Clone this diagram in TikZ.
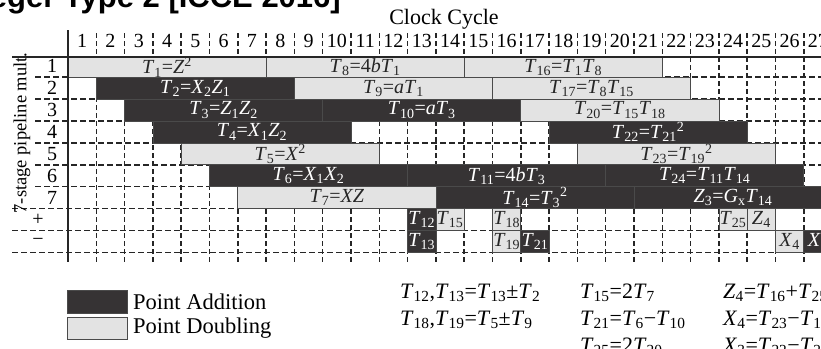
\documentclass[tikz,border=0pt]{standalone}
\usepackage{fontspec}
\setmainfont{Liberation Serif}
\newfontfamily\headfont{Liberation Sans}
\usetikzlibrary{positioning}

\definecolor{addfill}{HTML}{363334}
\definecolor{dblfill}{HTML}{E3E3E3}
\definecolor{edgegray}{HTML}{4A4A4A}

\newcommand{\Tv}[1]{\textit{T}\textsubscript{#1}}
\newcommand{\Xv}[1]{\textit{X}\textsubscript{#1}}
\newcommand{\Zv}[1]{\textit{Z}\textsubscript{#1}}
\newcommand{\sqr}{\textsuperscript{2}}

\tikzset{
	gridh/.style={line width=1.5pt, dash pattern=on 6pt off 3pt, black!85},
	gridv/.style={line width=1.5pt, dash pattern=on 5pt off 3pt, black!85},
	addbar/.style={draw=edgegray, line width=0.8pt, fill=addfill, text=white, anchor=south west,
		minimum height=21.9pt, inner sep=0pt, outer sep=0pt, font=\fontsize{20}{22}\selectfont},
	dblbar/.style={addbar, fill=dblfill, text=black!85},
	ncyc/.style={minimum width=#1*28.3pt},
	toprow/.style={minimum height=20.2pt},
	axisnum/.style={font=\fontsize{20}{22}\selectfont, inner sep=0pt},
	keytext/.style={font=\fontsize{22.5}{24}\selectfont, inner sep=0pt, anchor=west},
	eqtext/.style={font=\fontsize{22}{24}\selectfont, inner sep=0pt, anchor=west}
}

\begin{document}
\begin{tikzpicture}[x=1pt, y=-1pt]

		\useasboundingbox (0,0) rectangle (821,348);

		% cut title
		\node[anchor=base east, inner sep=0pt, font=\headfont\bfseries\fontsize{31}{33}\selectfont] (title) at (341,7) {Integer Type 2 [ICCE 2016]};

		% grid
		\foreach \y in {77.2,99.1,121,142.9,164.8,186.7}
			\draw[gridh] (35,\y) -- (821,\y);
		\foreach \y in {208.6,230.5,252.4}
			\draw[gridh] (12,\y) -- (821,\y);
		\foreach \k in {1,...,27}
			\draw[gridv] ({68+28.3*\k},33) -- ({68+28.3*\k},262);

		% axis texts
		\node[font=\fontsize{22}{24}\selectfont, inner sep=0pt] (clock) at (444,19) {Clock Cycle};
		\foreach \k in {1,...,27}
			\node[axisnum] (c\k) at ({68+28.3*(\k-0.5)},41) {\k};
		\foreach \r in {1,...,7}
			\node[axisnum] (r\r) at (52,{55.3+21.9*(\r-0.5)}) {\r};
		\node[axisnum] (rplus) at (38,{55.3+21.9*7.5}) {+};
		\node[axisnum] (rminus) at (38,{55.3+21.9*8.5}) {−};
		\node[rotate=90, inner sep=0pt, font=\fontsize{18.5}{20}\selectfont] (pipe) at (22,133) {7-stage pipeline mult.};

		% row 1
		\node[dblbar, ncyc=7, toprow] (t1) at (68,77.2) {\Tv{1}=\textit{Z}\sqr};
		\node[dblbar, ncyc=7, toprow] (t8) at (266.1,77.2) {\Tv{8}=4\textit{b}\Tv{1}};
		\node[dblbar, ncyc=7, toprow] (t16) at (464.2,77.2) {\Tv{16}=\Tv{1}\Tv{8}};
		% row 2
		\node[addbar, ncyc=7] (t2) at (96.3,99.1) {\Tv{2}=\Xv{2}\Zv{1}};
		\node[dblbar, ncyc=7] (t9) at (294.4,99.1) {\Tv{9}=\textit{a}\Tv{1}};
		\node[dblbar, ncyc=7] (t17) at (492.5,99.1) {\Tv{17}=\Tv{8}\Tv{15}};
		% row 3
		\node[addbar, ncyc=7] (t3) at (124.6,121) {\Tv{3}=\Zv{1}\Zv{2}};
		\node[addbar, ncyc=7] (t10) at (322.7,121) {\Tv{10}=\textit{a}\Tv{3}};
		\node[dblbar, ncyc=7] (t20) at (520.8,121) {\Tv{20}=\Tv{15}\Tv{18}};
		% row 4
		\node[addbar, ncyc=7] (t4) at (152.9,142.9) {\Tv{4}=\Xv{1}\Zv{2}};
		\node[addbar, ncyc=7] (t22) at (549.1,142.9) {\Tv{22}=\Tv{21}\sqr};
		% row 5
		\node[dblbar, ncyc=7] (t5) at (181.2,164.8) {\Tv{5}=\textit{X}\sqr};
		\node[dblbar, ncyc=7] (t23) at (577.4,164.8) {\Tv{23}=\Tv{19}\sqr};
		% row 6
		\node[addbar, ncyc=7] (t6) at (209.5,186.7) {\Tv{6}=\Xv{1}\Xv{2}};
		\node[addbar, ncyc=7] (t11) at (407.6,186.7) {\Tv{11}=4\textit{b}\Tv{3}};
		\node[addbar, ncyc=7] (t24) at (605.7,186.7) {\Tv{24}=\Tv{11}\Tv{14}};
		% row 7
		\node[dblbar, ncyc=7] (t7) at (237.8,208.6) {\Tv{7}=\textit{XZ}};
		\node[addbar, ncyc=7] (t14) at (435.9,208.6) {\Tv{14}=\Tv{3}\sqr};
		\node[addbar, ncyc=7] (z3) at (634,208.6) {\Zv{3}=\textit{G}\textsubscript{x}\Tv{14}};
		% adder row
		\node[addbar, ncyc=1] (t12) at (407.6,230.5) {\Tv{12}};
		\node[dblbar, ncyc=1] (t15) at (435.9,230.5) {\Tv{15}};
		\node[dblbar, ncyc=1] (t18) at (492.5,230.5) {\Tv{18}};
		\node[dblbar, ncyc=1] (t25) at (718.9,230.5) {\Tv{25}};
		\node[dblbar, ncyc=1] (z4) at (747.2,230.5) {\Zv{4}};
		% subtractor row
		\node[addbar, ncyc=1] (t13) at (407.6,252.4) {\Tv{13}};
		\node[dblbar, ncyc=1] (t19) at (492.5,252.4) {\Tv{19}};
		\node[addbar, ncyc=1] (t21) at (520.8,252.4) {\Tv{21}};
		\node[dblbar, ncyc=1] (x4) at (775.5,252.4) {\Xv{4}};
		\node[addbar, ncyc=1] (x3) at (803.8,252.4) {\Xv{3}};

		% axes
		\draw[line width=1.8pt, black!85] (12,57) -- (821,57);
		\draw[line width=1.5pt, black!85] (68,30) -- (68,262);

		% legend
		\node[addbar, anchor=north west, minimum width=60pt, minimum height=23pt] (keyadd) at (67,290) {};
		\node[keytext, right=6pt of keyadd] (keyaddtxt) {Point Addition};
		\node[dblbar, anchor=north west, minimum width=60pt, minimum height=22pt] (keydbl) at (67,317) {};
		\node[keytext, right=6pt of keydbl] (keydbltxt) {Point Doubling};

		% formulas
		\node[eqtext] (eq1) at (400,293) {\Tv{12},\Tv{13}=\Tv{13}±\Tv{2}};
		\node[eqtext] (eq2) at (400,320) {\Tv{18},\Tv{19}=\Tv{5}±\Tv{9}};
		\node[eqtext] (eq3) at (580,293) {\Tv{15}=2\Tv{7}};
		\node[eqtext] (eq4) at (580,320) {\Tv{21}=\Tv{6}−\Tv{10}};
		\node[eqtext] (eq5) at (580,347) {\Tv{25}=2\Tv{20}};
		\node[eqtext] (eq6) at (723,293) {\Zv{4}=\Tv{16}+\Tv{25}};
		\node[eqtext] (eq7) at (723,320) {\Xv{4}=\Tv{23}−\Tv{17}};
		\node[eqtext] (eq8) at (723,347) {\Xv{3}=\Tv{22}−\Tv{24}};

	\end{tikzpicture}
\end{document}
